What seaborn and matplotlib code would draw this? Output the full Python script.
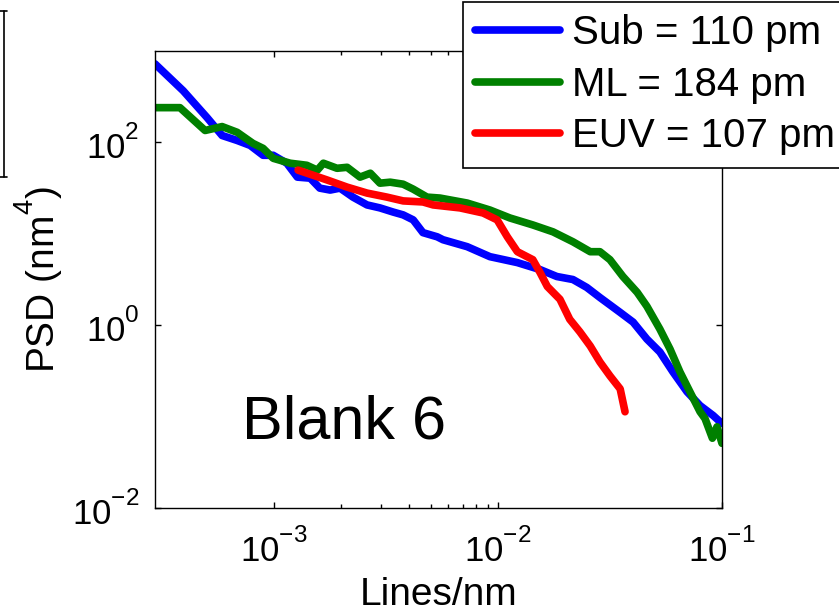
import matplotlib
matplotlib.use("Agg")
import matplotlib.pyplot as plt
from matplotlib.lines import Line2D
from matplotlib.ticker import FixedLocator, LogFormatterMathtext, NullLocator, NullFormatter
import pandas as pd
import seaborn as sns

try:
    # raise exponents a little higher above the base, like classic log-axis labels
    import matplotlib._mathtext as _mt
    _mt.FontConstantsBase.sup1 = 1.0
except Exception:
    pass

# Power spectral density of line-edge roughness, three process stages
sub_freq = [2.94e-4, 3.93e-4, 5.02e-4, 5.86e-4, 6.84e-4, 7.82e-4, 8.93e-4, 9.91e-4,
            1.14e-3, 1.27e-3, 1.45e-3, 1.60e-3, 1.78e-3, 1.97e-3, 2.25e-3, 2.60e-3,
            2.97e-3, 3.40e-3, 3.77e-3, 4.18e-3, 4.62e-3, 5.35e-3, 5.68e-3, 7.28e-3,
            9.20e-3, 1.22e-2, 1.54e-2, 1.83e-2, 2.16e-2, 2.49e-2, 2.85e-2, 3.51e-2,
            4.01e-2, 4.62e-2, 5.28e-2, 6.04e-2, 6.98e-2, 7.98e-2, 9.12e-2, 1.00e-1]
sub_psd = [723, 367, 187, 119, 105, 92.7, 72.3, 72.3,
           59.2, 41.7, 40.6, 31.6, 30.1, 31.6, 25.2, 20.7,
           19.2, 17.3, 16.1, 14.2, 10.3, 9.27, 8.61, 7.23,
           5.62, 4.84, 4.06, 3.41, 3.16, 2.59, 2.01, 1.38,
           1.08, 0.705, 0.509, 0.308, 0.187, 0.132, 0.103, 0.084]

ml_freq = [2.94e-4, 3.80e-4, 4.92e-4, 5.86e-4, 6.84e-4, 8.05e-4, 8.93e-4, 9.91e-4,
           1.18e-3, 1.40e-3, 1.56e-3, 1.66e-3, 1.91e-3, 2.12e-3, 2.42e-3, 2.69e-3,
           2.97e-3, 3.30e-3, 3.77e-3, 4.18e-3, 4.82e-3, 5.51e-3, 7.28e-3, 9.20e-3,
           1.13e-2, 1.43e-2, 1.76e-2, 2.16e-2, 2.58e-2, 2.85e-2, 3.16e-2, 3.61e-2,
           4.18e-2, 4.62e-2, 5.28e-2, 5.86e-2, 6.49e-2, 7.19e-2, 7.98e-2, 8.40e-2,
           9.06e-2, 9.50e-2, 1.00e-1]
ml_psd = [240, 240, 135, 149, 129, 97.5, 86.1, 67.0,
          59.2, 56.2, 49.7, 59.2, 52.1, 53.4, 41.7, 46.0,
          35.8, 36.7, 34.9, 30.8, 25.2, 24.6, 21.7, 18.2,
          14.9, 12.5, 10.5, 8.18, 6.37, 6.37, 5.21, 3.41,
          2.29, 1.61, 0.906, 0.548, 0.308, 0.187, 0.113, 0.095,
          0.058, 0.0774, 0.051]

euv_freq = [1.28e-3, 1.73e-3, 2.12e-3, 2.60e-3, 3.19e-3, 3.77e-3, 4.62e-3, 5.13e-3,
            6.76e-3, 8.57e-3, 9.91e-3, 1.10e-2, 1.22e-2, 1.43e-2, 1.54e-2, 1.66e-2,
            1.89e-2, 2.09e-2, 2.32e-2, 2.58e-2, 2.85e-2, 3.16e-2, 3.51e-2, 3.69e-2]
euv_psd = [49.7, 38.7, 32.4, 27.9, 25.2, 22.9, 22.3, 20.7,
           19.2, 16.9, 14.2, 9.27, 6.37, 5.21, 3.77, 2.65,
           1.92, 1.16, 0.845, 0.592, 0.396, 0.279, 0.201, 0.113]

series_labels = ["Sub = 110 pm", "ML = 184 pm", "EUV = 107 pm"]
series_colors = ["#0000ff", "#008000", "#ff0000"]
x_major = [1e-3, 1e-2, 1e-1]
x_minor = [2e-3, 3e-3, 4e-3, 5e-3, 6e-3, 7e-3, 8e-3, 9e-3]
y_major = [1e-2, 1e0, 1e2]
panel_text = "Blank 6"

sns.set_theme(style="ticks")
plt.rcParams.update({
    "axes.edgecolor": "black",
    "axes.linewidth": 1.0,
    "xtick.color": "black",
    "ytick.color": "black",
    "text.color": "black",
    "axes.labelcolor": "black",
    "mathtext.fontset": "custom",
    "mathtext.rm": "Liberation Sans",
    "mathtext.it": "Liberation Sans:italic",
    "mathtext.bf": "Liberation Sans:bold",
})
plt.rcParams["font.family"] = ["Liberation Sans", "DejaVu Sans"]

W, H = 839, 614
fig = plt.figure(figsize=(W / 100, H / 100), dpi=100)
ax = fig.add_axes([155 / W, 1 - 508 / H, 567 / W, 457 / H])
ax.set_xscale("log")
ax.set_yscale("log")

df = pd.concat([
    pd.DataFrame({"freq": f, "psd": p, "series": s})
    for f, p, s in zip([sub_freq, ml_freq, euv_freq],
                       [sub_psd, ml_psd, euv_psd], series_labels)
], ignore_index=True)

sns.lineplot(data=df, x="freq", y="psd", hue="series", hue_order=series_labels,
             palette=dict(zip(series_labels, series_colors)), sort=False,
             estimator=None, linewidth=5.5, legend=False, ax=ax,
             solid_capstyle="round", solid_joinstyle="round")

ax.set_xlim(2.94e-4, 1e-1)
ax.set_ylim(1e-2, 1e3)

ax.xaxis.set_major_locator(FixedLocator(x_major))
ax.xaxis.set_minor_locator(FixedLocator(x_minor))
ax.xaxis.set_major_formatter(LogFormatterMathtext())
ax.xaxis.set_minor_formatter(NullFormatter())
ax.yaxis.set_major_locator(FixedLocator(y_major))
ax.yaxis.set_minor_locator(NullLocator())
ax.yaxis.set_major_formatter(LogFormatterMathtext())

ax.tick_params(which="both", direction="in", top=True, right=True, width=1.0)
ax.tick_params(which="major", length=4, labelsize=25)
ax.tick_params(which="minor", length=3)
ax.tick_params(axis="x", which="major", pad=15)
ax.tick_params(axis="y", which="major", pad=11)

ax.set_xlabel("Lines/nm", fontsize=28, labelpad=6)
ax.set_ylabel("PSD (nm$^4$)", fontsize=28, labelpad=5)

ax.text(0.153, 0.153, panel_text, transform=ax.transAxes, fontsize=44,
        ha="left", va="baseline")

handles = [Line2D([], [], color=c, linewidth=5.5) for c in series_colors]
leg = ax.legend(handles, series_labels, loc="upper left",
                bbox_to_anchor=(463 / W, 1 - 2 / H), bbox_transform=fig.transFigure,
                fontsize=29, frameon=True, fancybox=False, framealpha=1,
                edgecolor="black", borderpad=0.3, labelspacing=0.34,
                handlelength=2.1, handletextpad=0.3, borderaxespad=0)
leg.get_frame().set_linewidth(1.2)

# edge of the neighbouring panel's frame at the far left
for xs, ys in [([4, 4], [11, 177]), ([0, 7], [11, 11]), ([0, 7], [177, 177])]:
    fig.add_artist(Line2D([x / W for x in xs], [1 - y / H for y in ys],
                          transform=fig.transFigure, color="black", linewidth=1.2))

fig.savefig("out.png", dpi=100)
